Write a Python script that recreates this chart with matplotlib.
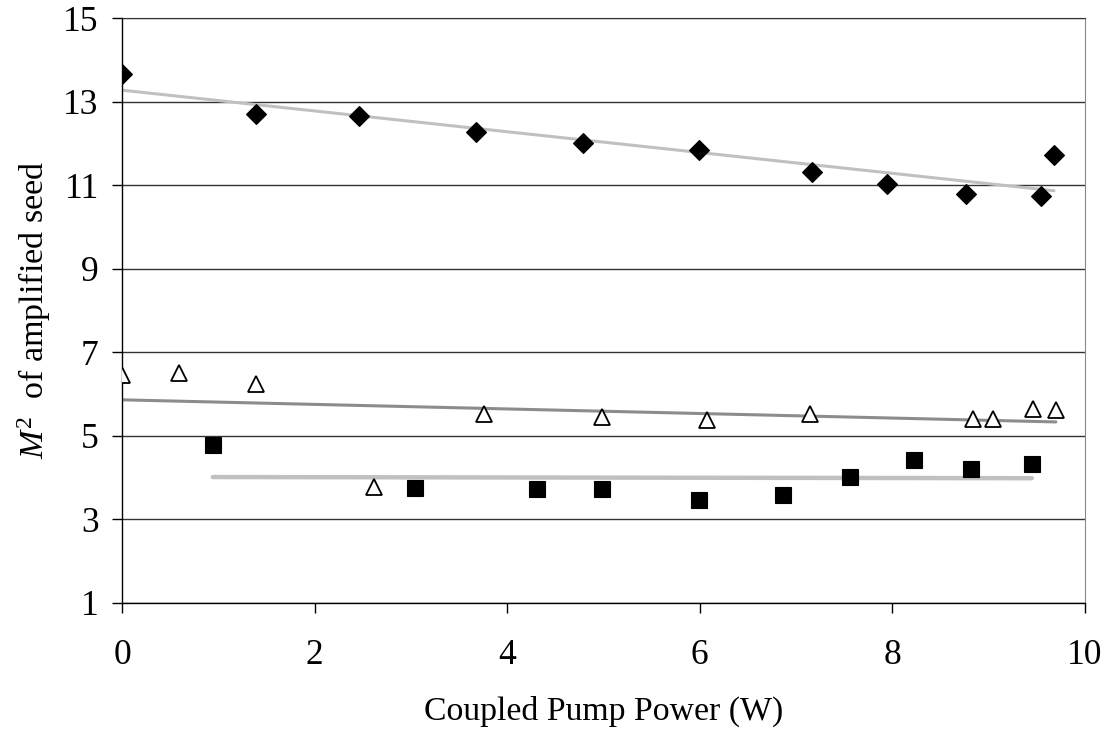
import numpy as np
import matplotlib.pyplot as plt

plt.rcParams['font.family'] = ['Liberation Serif', 'DejaVu Serif']
plt.rcParams['mathtext.fontset'] = 'custom'
plt.rcParams['mathtext.rm'] = 'Liberation Serif'
plt.rcParams['mathtext.it'] = 'Liberation Serif:italic'

# Series (pump power in W, M^2)
diamond_x = [0.0, 1.39, 2.46, 3.68, 4.79, 5.99, 7.17, 7.95, 8.77, 9.55, 9.68]
diamond_y = [13.66, 12.71, 12.65, 12.27, 12.00, 11.84, 11.31, 11.03, 10.79, 10.73, 11.72]

triangle_x = [0.0, 0.59, 1.39, 2.61, 3.76, 4.98, 6.07, 7.15, 8.84, 9.05, 9.46, 9.70]
triangle_y = [6.45, 6.49, 6.24, 3.76, 5.53, 5.44, 5.37, 5.52, 5.39, 5.39, 5.63, 5.61]

square_x = [0.94, 3.04, 4.31, 4.98, 5.99, 6.86, 7.56, 8.23, 8.82, 9.45]
square_y = [4.78, 3.74, 3.72, 3.72, 3.46, 3.57, 4.01, 4.41, 4.20, 4.31]

x_ticks = [0, 2, 4, 6, 8, 10]
y_ticks = [1, 3, 5, 7, 9, 11, 13, 15]

fig = plt.figure(figsize=(11.07, 7.30), dpi=100)
ax = fig.add_axes([0.1105, 0.1744, 0.8694, 0.8009])


def trend(ax, x, y, color, lw):
    # linear least-squares trendline over the series' own x range
    k, b = np.polyfit(x, y, 1)
    xs = np.array([min(x), max(x)])
    ax.plot(xs, k * xs + b, color=color, lw=lw, solid_capstyle='round', zorder=2)


trend(ax, diamond_x, diamond_y, '#c0c0c0', 2.2)
trend(ax, triangle_x, triangle_y, '#8c8c8c', 2.2)
trend(ax, square_x, square_y, '#c0c0c0', 3.2)

ax.plot(diamond_x, diamond_y, 'D', ms=10, color='black', mec='black', mew=0.8, zorder=3)
ax.plot(triangle_x, triangle_y, '^', ms=12, mfc='white', mec='black', mew=1.3, zorder=3)
ax.plot(square_x, square_y, 's', ms=12, color='black', mec='black', mew=0.8, zorder=3)

ax.set_xlim(0, 10)
ax.set_ylim(1, 15)
ax.set_xticks(x_ticks)
ax.set_yticks(y_ticks)
ax.yaxis.grid(True, color='#333333', lw=1.0)
ax.set_axisbelow(True)

for s in ['left', 'bottom']:
    ax.spines[s].set_color('black')
    ax.spines[s].set_linewidth(1.0)
ax.spines['right'].set_color('#888888')
ax.spines['top'].set_color('#333333')
ax.tick_params(axis='both', direction='out', length=7, width=1, labelsize=25.5)
ax.tick_params(axis='x', pad=19)
ax.tick_params(axis='y', pad=10)

ax.set_xlabel('Coupled Pump Power (W)', fontsize=24.3, labelpad=17)
ax.set_ylabel(r'$M^{2}$  of amplified seed', fontsize=24.5, labelpad=7)

fig.savefig('out.png', dpi=100)
